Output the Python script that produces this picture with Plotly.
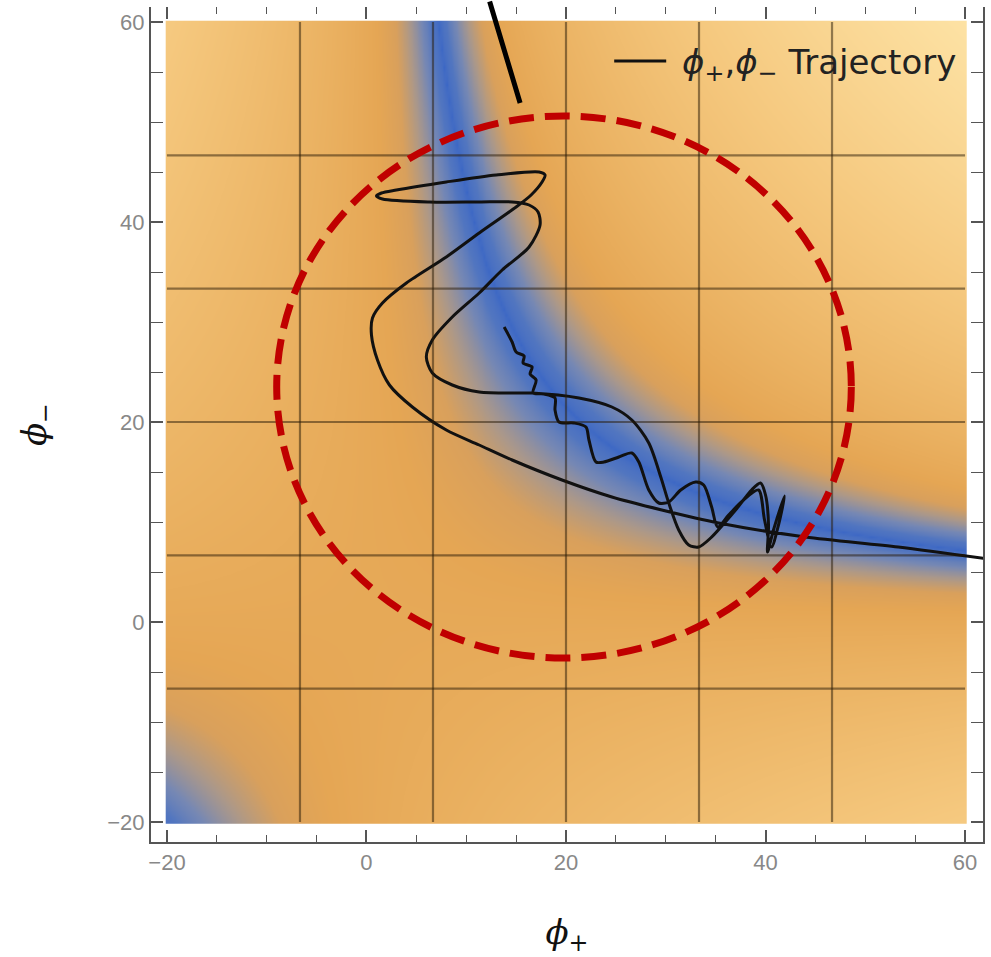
import numpy as np
import plotly.graph_objects as go

# ---------------- data ----------------
# trajectory (phi_plus, phi_minus)
PHI_PLUS = [63.0, 53.3, 44.0, 35.3, 29.6, 24.6, 19.6, 14.6, 11.3, 8.0, 4.6, 2.3, 1.1, 0.5, 0.6, 1.6,
            4.0, 8.0, 11.3, 15.0, 16.5, 17.6, 17.9,
            17.3, 13.0, 8.0, 3.0, 1.5, 1.0, 1.6, 6.3, 11.3, 14.6, 16.3, 17.2, 17.4, 16.3, 13.6,
            11.3, 8.6, 6.6, 6.0, 6.6, 8.6, 11.3, 15.0, 16.6, 21.3, 24.6, 26.6, 28.3, 29.5, 30.3,
            31.3, 32.3, 33.3, 34.5, 37.0, 38.6, 39.5, 40.0, 40.3, 40.2, 40.8, 41.9, 41.3, 40.6,
            39.9, 39.3, 37.8, 36.3, 35.2, 34.6, 33.8, 33.0, 31.5, 30.3, 29.3, 28.3, 27.3, 26.6,
            25.3, 23.8, 23.0, 22.3, 22.0, 20.8, 19.3, 18.9, 18.9, 17.8, 16.7, 17.0, 16.4, 16.6,
            15.7, 15.8, 15.0, 14.6, 13.8]
PHI_MINUS = [6.2, 7.5, 8.5, 9.9, 11.2, 12.5, 14.2, 16.2, 17.7, 19.2, 21.5, 23.7, 26.2, 28.7, 30.4, 31.9,
             33.9, 36.5, 38.9, 41.5, 42.7, 44.0, 44.7,
             45.0, 44.7, 44.0, 43.2, 42.9, 42.6, 42.3, 42.0, 42.0, 42.0, 41.7, 41.0, 39.7, 37.5, 35.2,
             32.9, 30.5, 28.2, 26.5, 24.9, 23.7, 23.0, 22.9, 22.9, 22.4, 21.5, 20.2, 17.9, 14.5, 11.9,
             9.2, 7.7, 7.5, 8.4, 11.2, 13.2, 13.9, 12.7, 9.7, 7.0, 9.2, 12.6, 9.7, 7.5,
             10.2, 13.2, 12.2, 10.7, 9.5, 11.5, 13.7, 14.0, 13.2, 12.0, 11.9, 13.2, 16.0, 16.9,
             16.5, 16.0, 16.0, 18.2, 19.5, 19.9, 20.0, 21.2, 22.4, 22.8, 22.9, 24.2, 24.8, 25.5,
             25.9, 26.6, 27.0, 28.0, 29.5]

TRACE_NAME = "&nbsp;<i>ϕ</i><sub>+</sub>,<i>ϕ</i><sub>−</sub> Trajectory"

# density background: valley along phi_plus * phi_minus = VALLEY_PRODUCT
FIELD_MIN, FIELD_MAX, FIELD_STEP = -20.0, 60.0, 0.25
VALLEY_PRODUCT = 430.0

GRID_LINES = [-20 + 80 * k / 6 for k in range(1, 6)]
TICKS_MAJOR = [-20, 0, 20, 40, 60]

# highlight ellipse (center, radii) and pointer line
CIRCLE_CENTER = (19.8, 23.5)
CIRCLE_RADII = (28.8, 27.1)
POINTER_FROM = (12.3, 62.2)
POINTER_TO = (15.4, 51.9)

# ---------------- figure ----------------
g = np.arange(FIELD_MIN, FIELD_MAX + 1e-9, FIELD_STEP)
X, Y = np.meshgrid(g, g)
Z = np.sqrt(np.abs(X * Y - VALLEY_PRODUCT))
Z = Z / Z.max()

colorscale = [
    [0.00, "#3a66c6"],
    [0.12, "#5276c0"],
    [0.18, "#7688b4"],
    [0.235, "#ab988a"],
    [0.285, "#d9a05c"],
    [0.34, "#e5a654"],
    [0.45, "#eab161"],
    [0.70, "#f5c87e"],
    [1.00, "#fde2a4"],
]

fig = go.Figure()
fig.add_trace(go.Heatmap(x=g, y=g, z=Z, colorscale=colorscale, zmin=0, zmax=1,
                         showscale=False, zsmooth="best", hoverinfo="skip", showlegend=False))
fig.add_trace(go.Scatter(x=PHI_PLUS, y=PHI_MINUS, mode="lines", name=TRACE_NAME,
                         line=dict(color="#111111", width=3, shape="spline", smoothing=0.8)))
# invisible trace for top tick axis
fig.add_trace(go.Scatter(x=[TICKS_MAJOR[0]], y=[TICKS_MAJOR[0]], xaxis="x2", mode="markers",
                         marker=dict(opacity=0), showlegend=False, hoverinfo="skip"))

shapes = []
for v in GRID_LINES:
    shapes.append(dict(type="line", xref="x", yref="y", x0=v, x1=v, y0=FIELD_MIN, y1=FIELD_MAX,
                       line=dict(color="rgba(40,25,5,0.5)", width=2.2), layer="above"))
    shapes.append(dict(type="line", xref="x", yref="y", y0=v, y1=v, x0=FIELD_MIN, x1=FIELD_MAX,
                       line=dict(color="rgba(40,25,5,0.5)", width=2.2), layer="above"))
cx, cy = CIRCLE_CENTER
rx, ry = CIRCLE_RADII
shapes.append(dict(type="circle", xref="x", yref="y", x0=cx - rx, x1=cx + rx, y0=cy - ry, y1=cy + ry,
                   line=dict(color="#c00000", width=7, dash="25px,11px"), layer="above"))

XR = [-21.6, 61.8]
YR = [-22.0, 61.5]
tickfont = dict(family="Liberation Sans, Arial, sans-serif", size=22, color="#888888")
axis_common = dict(showgrid=False, zeroline=False, ticks="inside", ticklen=12, tickwidth=1.5,
                   tickcolor="#555555", linecolor="#555555", linewidth=2, showline=True,
                   tick0=0, dtick=20, tickfont=tickfont,
                   minor=dict(ticks="inside", ticklen=7, dtick=5, tickcolor="#555555", tickwidth=1.2))

fig.update_layout(
    width=991, height=957,
    margin=dict(l=151, r=6, t=7, b=115),
    paper_bgcolor="white", plot_bgcolor="white",
    shapes=shapes,
    xaxis=dict(range=XR, mirror=False, **axis_common,
               title=dict(text="<i>ϕ</i><sub>+</sub>", standoff=48,
                          font=dict(family="DejaVu Serif, serif", size=34, color="#111111"))),
    xaxis2=dict(range=XR, overlaying="x", side="top", showgrid=False, zeroline=False,
                ticks="inside", ticklen=12, tickwidth=1.5, tickcolor="#555555", showline=False,
                tick0=0, dtick=20, showticklabels=False,
                minor=dict(ticks="inside", ticklen=7, dtick=5, tickcolor="#555555", tickwidth=1.2)),
    yaxis=dict(range=YR, mirror="allticks", **axis_common,
               title=dict(text="<i>ϕ</i><sub>−</sub>", standoff=50,
                          font=dict(family="DejaVu Serif, serif", size=34, color="#111111"))),
    legend=dict(x=0.975, y=0.935, xanchor="right", yanchor="middle", bgcolor="rgba(0,0,0,0)",
                font=dict(family="DejaVu Sans, sans-serif", size=34, color="#222222"),
                itemwidth=52),
    showlegend=True,
    annotations=[dict(x=POINTER_TO[0], y=POINTER_TO[1], ax=POINTER_FROM[0], ay=POINTER_FROM[1],
                      xref="x", yref="y", axref="x", ayref="y", text="", showarrow=True,
                      arrowhead=0, arrowwidth=5, arrowcolor="#000000", standoff=0, startstandoff=0)],
)

fig.write_html("out.html")
